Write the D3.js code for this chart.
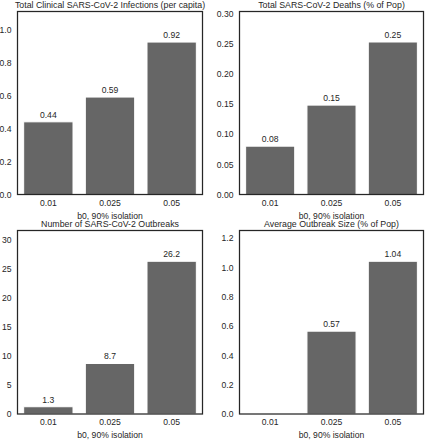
<!DOCTYPE html>
<html><head><meta charset="utf-8">
<script src="https://cdn.jsdelivr.net/npm/d3@7"></script>
<style>
html,body{margin:0;padding:0;background:#fff;}
svg{display:block;font-family:"Liberation Sans",Arial,sans-serif;}
</style></head>
<body>
<svg id="chart" width="425" height="440"></svg>
<script>
const categories = ["0.01", "0.025", "0.05"];
const xLabel = "b0, 90% isolation";
const titles = [
  "Total Clinical SARS-CoV-2 Infections (per capita)",
  "Total SARS-CoV-2 Deaths (% of Pop)",
  "Number of SARS-CoV-2 Outbreaks",
  "Average Outbreak Size (% of Pop)"
];
const infections = [0.44, 0.59, 0.923];
const deaths = [0.08, 0.148, 0.2525];
const outbreaks = [1.25, 8.7, 26.3];
const outbreakSize = [0, 0.565, 1.042];
const valueLabels = [
  ["0.44", "0.59", "0.92"],
  ["0.08", "0.15", "0.25"],
  ["1.3", "8.7", "26.2"],
  ["", "0.57", "1.04"]
];
const yMax = [1.108, 0.303, 31.6, 1.252];
const yTicks = [
  [0, 0.2, 0.4, 0.6, 0.8, 1.0],
  [0, 0.05, 0.10, 0.15, 0.20, 0.25, 0.30],
  [0, 5, 10, 15, 20, 25, 30],
  [0, 0.2, 0.4, 0.6, 0.8, 1.0, 1.2]
];
const yFormats = [".1f", ".2f", "d", ".1f"];
const series = [infections, deaths, outbreaks, outbreakSize];

const panels = [
  {x0: 17.5, x1: 202.5, y0: 11.5, y1: 194.5},
  {x0: 239.5, x1: 423.5, y0: 11.5, y1: 194.5},
  {x0: 17.5, x1: 202.5, y0: 230.5, y1: 414},
  {x0: 239.5, x1: 423.5, y0: 230.5, y1: 414}
];

const svg = d3.select("#chart");
const textColor = "#262626";
const barColor = "#666666";
const fs = 8.6;
const fsTitle = 8.8;
const ff = "Liberation Sans, Arial, sans-serif";

panels.forEach((p, i) => {
  const g = svg.append("g");
  const x = d3.scaleBand().domain(categories).range([p.x0, p.x1])
    .paddingInner(0.2).paddingOuter(0.1);
  const y = d3.scaleLinear().domain([0, yMax[i]]).range([p.y1, p.y0]);
  const vals = series[i];
  const rows = categories.map((c, k) => ({c, v: vals[k], lab: valueLabels[i][k]}));

  g.selectAll("rect.bar").data(rows)
    .join("rect")
    .attr("class", "bar")
    .attr("x", d => x(d.c))
    .attr("width", x.bandwidth())
    .attr("y", d => y(d.v))
    .attr("height", d => Math.max(0, y(0) - y(d.v)))
    .attr("fill", barColor)
    .attr("stroke", "#fff")
    .attr("stroke-width", 1);

  g.selectAll("text.val").data(rows.filter(d => d.lab))
    .join("text")
    .attr("class", "val")
    .attr("x", d => x(d.c) + x.bandwidth() / 2)
    .attr("y", d => y(d.v) - 4)
    .attr("text-anchor", "middle")
    .attr("font-size", fs)
    .attr("fill", textColor)
    .text(d => d.lab);

  const yAxis = d3.axisLeft(y).tickValues(yTicks[i]).tickFormat(d3.format(yFormats[i])).tickSize(0).tickPadding(6);
  const ya = g.append("g").attr("transform", `translate(${p.x0},0)`).call(yAxis);
  ya.select(".domain").remove();
  ya.selectAll("text").attr("font-size", fs).attr("fill", textColor).attr("font-family", ff);

  const xAxis = d3.axisBottom(x).tickSize(0).tickPadding(5);
  const xa = g.append("g").attr("transform", `translate(0,${p.y1})`).call(xAxis);
  xa.select(".domain").remove();
  xa.selectAll("text").attr("font-size", fs).attr("fill", textColor).attr("font-family", ff);

  g.append("rect")
    .attr("x", p.x0).attr("y", p.y0)
    .attr("width", p.x1 - p.x0).attr("height", p.y1 - p.y0)
    .attr("fill", "none").attr("stroke", textColor).attr("stroke-width", 1.25);

  g.append("text")
    .attr("x", (p.x0 + p.x1) / 2).attr("y", p.y1 + 24)
    .attr("text-anchor", "middle").attr("font-size", fs).attr("fill", textColor)
    .text(xLabel);

  g.append("text")
    .attr("x", (p.x0 + p.x1) / 2).attr("y", p.y0 - 3.5)
    .attr("text-anchor", "middle").attr("font-size", fsTitle).attr("fill", textColor)
    .text(titles[i]);
});
</script>
</body></html>
